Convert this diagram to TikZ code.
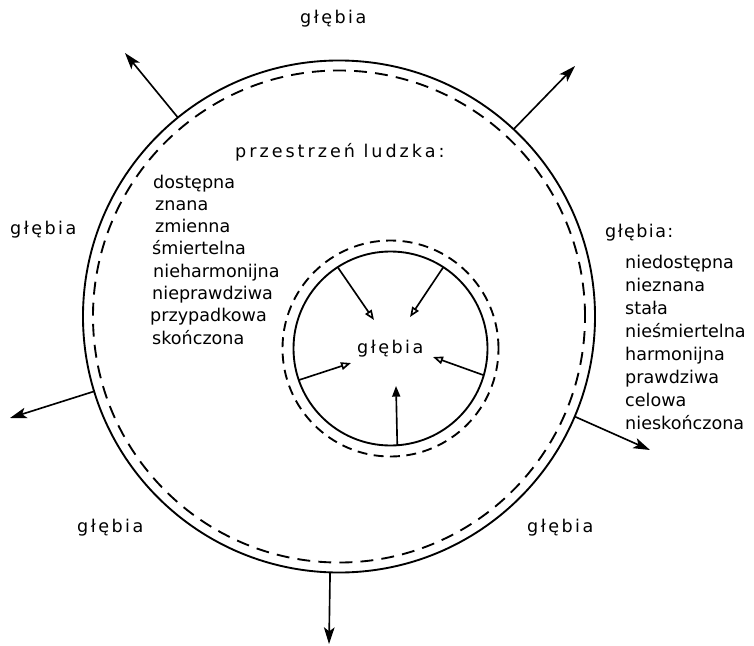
\documentclass[tikz,border=0pt]{standalone}
\usepackage{fontspec}
\setmainfont{DejaVu Sans}
\usetikzlibrary{arrows.meta}

\tikzset{
  ring/.style={draw, circle, inner sep=0pt, outer sep=0pt, line width=1.6pt},
  dashring/.style={ring, dash pattern=on 11pt off 7pt},
  outarrow/.style={line width=1.4pt, -{Stealth[length=5mm, width=3.2mm, inset=1.2mm]}},
  inarrow/.style={line width=1.4pt, -{Triangle[open, length=3mm, width=2.3mm]}},
  uparrow/.style={line width=1.4pt, -{Triangle[length=3.2mm, width=2.4mm]}},
  word/.style={anchor=base west, inner sep=0pt},
  spaced/.style={word, font=\fontsize{15}{19}\selectfont\addfontfeatures{LetterSpace=14}}
}

\begin{document}
\begin{tikzpicture}[x=0.03cm, y=-0.03cm, font=\fontsize{15}{19}\selectfont]
\useasboundingbox (0,0) rectangle (754,646);
% rings
\node[ring, minimum size=15.36cm] (outer) at (339,316.5) {};
\node[dashring, minimum size=14.76cm] (outerdash) at (339,316.5) {};
\node[ring, minimum size=5.82cm] (inner) at (390.5,348.5) {};
\node[dashring, dash pattern=on 8.5pt off 5.5pt, minimum size=6.48cm] (innerdash) at (390.5,348.5) {};
% depth labels
\node[spaced] (top) at (300,24) {głębia};
\node[spaced] (left) at (10,234) {głębia};
\node[word, font=\fontsize{15}{19}\selectfont\addfontfeatures{LetterSpace=8}] (right) at (605,237) {głębia:};
\node[spaced] (botleft) at (77,532) {głębia};
\node[spaced] (botright) at (527,532) {głębia};
\node[spaced] (centre) at (357,353) {głębia};
\node[word, font=\fontsize{15}{19}\selectfont\addfontfeatures{LetterSpace=17}] (space) at (235,157) {przestrzeń ludzka:};
% lists
\foreach \w/\x [count=\i] in {dostępna/153, znana/155, zmienna/155, śmiertelna/152, nieharmonijna/153, nieprawdziwa/152, przypadkowa/150, skończona/152}
  \node[word] (human\i) at (\x, {165.7+22.3*\i}) {\w};
\foreach \w [count=\i] in {niedostępna, nieznana, stała, nieśmiertelna, harmonijna, prawdziwa, celowa, nieskończona}
  \node[word] (depth\i) at (625, {244.9+23.1*\i}) {\w};
% arrows out of the big ring
\foreach \a/\tx/\ty [count=\i] in {129/125/53, 47/575/66, 197/10/418, 337/650/450, 268/329/644} {
  \coordinate (out\i) at (\tx,\ty);
  \draw[outarrow] (outer.\a) -- (out\i);
}
% arrows into the small ring
\foreach \a/\tx/\ty [count=\i] in {123/374/320, 57/410/317, 199/351/363, 344/433/357} {
  \coordinate (in\i) at (\tx,\ty);
  \draw[inarrow] (inner.\a) -- (in\i);
}
\coordinate (in5) at (396,386);
\draw[uparrow] (inner.274) -- (in5);
\end{tikzpicture}
\end{document}
